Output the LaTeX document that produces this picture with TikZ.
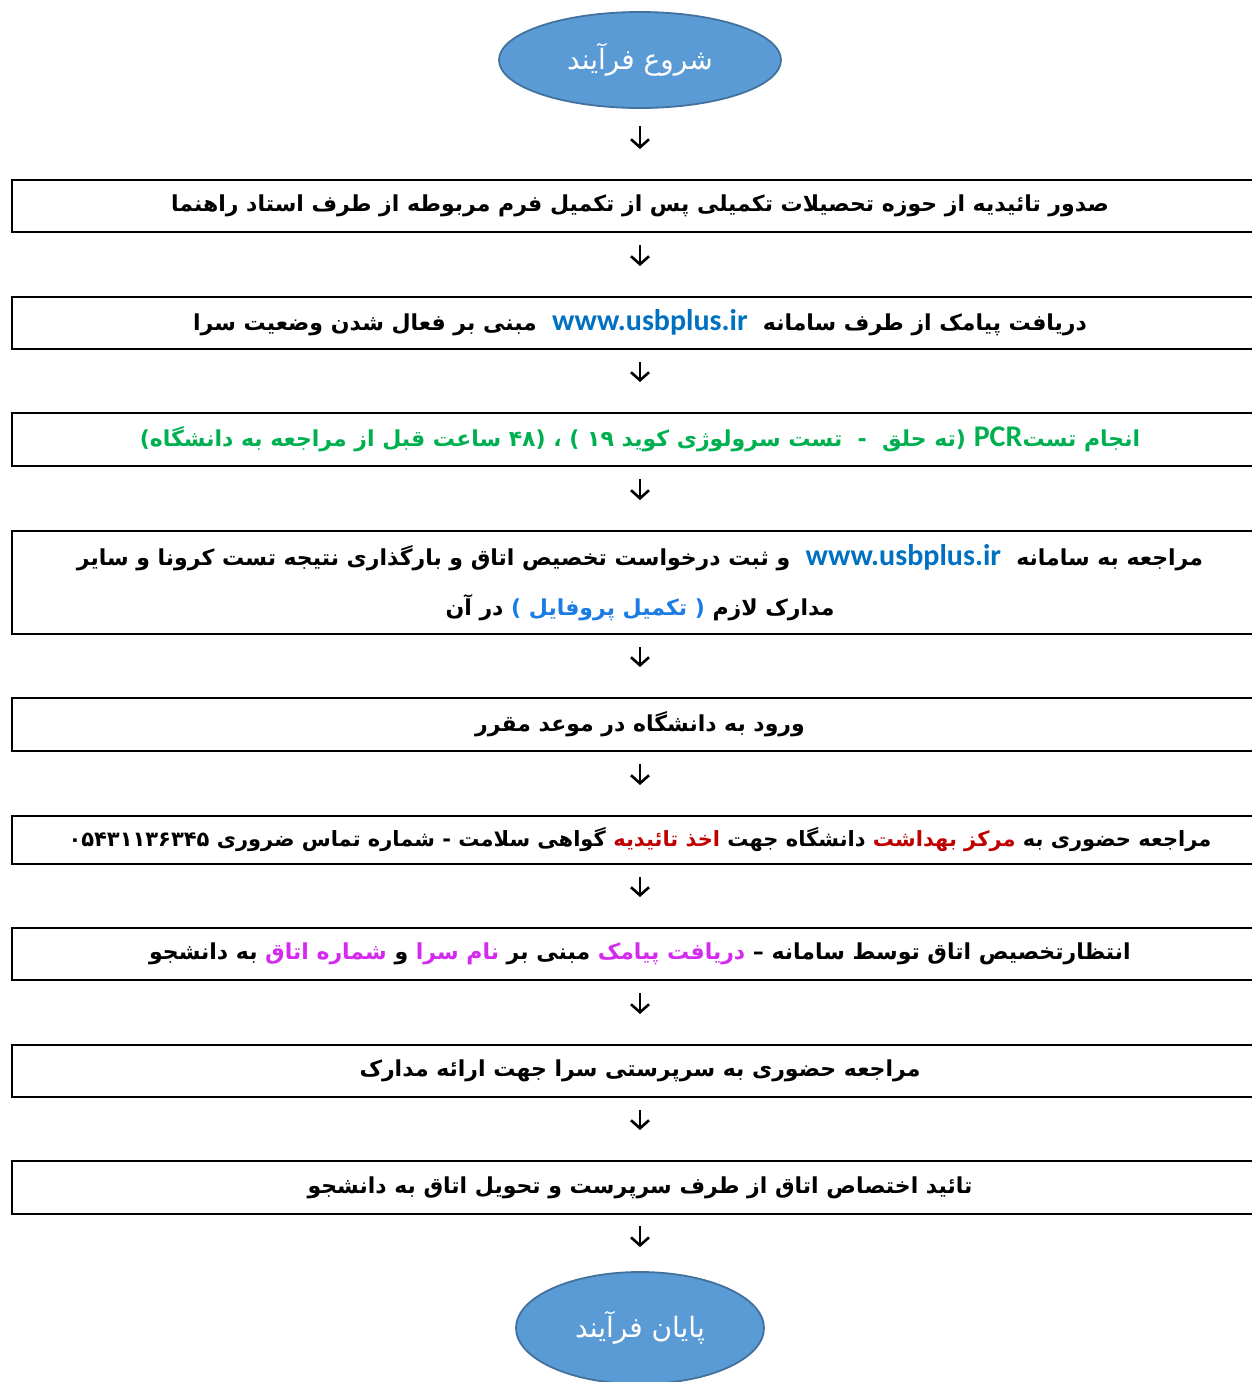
\documentclass[tikz,border=0pt]{standalone}
\usepackage{fontspec}
\usetikzlibrary{arrows.meta,shapes.geometric}
\TeXXeTstate=1
\newfontfamily\fa[Script=Arabic]{DejaVu Sans}
\newfontfamily\faRed[Script=Arabic,Color=C00000]{DejaVu Sans}
\newfontfamily\faMag[Script=Arabic,Color=D42AF0]{DejaVu Sans}
\newfontfamily\faBlue[Script=Arabic,Color=1C7CE6]{DejaVu Sans}
\newfontfamily\lat{Carlito}
\newfontfamily\laturl[Color=0070C0]{Carlito}
\definecolor{pcrgreen}{HTML}{00B050}
\definecolor{ovalfill}{HTML}{5B9BD5}
\definecolor{ovalline}{HTML}{41719C}
\newcommand\urlt{\hbox{\laturl\bfseries\fontsize{30}{36}\selectfont www.usbplus.ir}}
\newcommand\pcrt{\hbox{\lat\bfseries\fontsize{30}{36}\selectfont PCR}}
\tikzset{
  stepbox/.style={draw=black, line width=2pt, minimum width=1256pt, inner sep=0pt,
    font=\fa\bfseries\fontsize{22}{50}\selectfont, align=center},
  oval/.style={ellipse, draw=ovalline, line width=1.8pt, fill=ovalfill, inner sep=0pt,
    text=white, font=\fa\fontsize{28}{32}\selectfont},
  arr/.style={line width=2.6pt, -{Straight Barb[length=8pt,width=18pt]},
    shorten <=12pt, shorten >=30pt}
}
\begin{document}
\begin{tikzpicture}[x=1pt,y=-1pt]
\useasboundingbox (0,0) rectangle (1252,1382);
\clip (0,0) rectangle (1252,1382);
\node[oval, minimum width=282pt, minimum height=96pt] (s) at (640,60) {\beginR شروع فرآیند\endR};
\node[stepbox, minimum height=52pt] (b1) at (640,206) {\beginR صدور تائیدیه از حوزه تحصیلات تکمیلی پس از تکمیل فرم مربوطه از طرف استاد راهنما\endR};
\node[stepbox, minimum height=52pt] (b2) at (640,323) {\beginR دریافت پیامک از طرف سامانه \ \urlt\ \ مبنی بر فعال شدن وضعیت سرا\endR};
\node[stepbox, minimum height=53pt, text=pcrgreen] (b3) at (640,439.5) {\beginR انجام تست\pcrt\ (ته حلق \ - \ تست سرولوژی کوید ۱۹ ) ، (۴۸ ساعت قبل از مراجعه به دانشگاه)\endR};
\node[stepbox, minimum height=103pt] (b4) at (640,582.5) {\beginR مراجعه به سامانه \ \urlt\ \ و ثبت درخواست تخصیص اتاق و بارگذاری نتیجه تست کرونا و سایر\endR\\\beginR مدارک لازم {\faBlue\bfseries ( تکمیل پروفایل )} در آن\endR};
\node[stepbox, minimum height=53pt] (b5) at (640,724.5) {\beginR ورود به دانشگاه در موعد مقرر\endR};
\node[stepbox, minimum height=48pt, font=\fa\bfseries\fontsize{21}{50}\selectfont] (b6) at (640,840) {\beginR مراجعه حضوری به {\faRed\bfseries مرکز بهداشت} دانشگاه جهت {\faRed\bfseries اخذ تائیدیه} گواهی سلامت - شماره تماس ضروری ۰۵۴۳۱۱۳۶۳۴۵\endR};
\node[stepbox, minimum height=52pt] (b7) at (640,954) {\beginR انتظارتخصیص اتاق توسط سامانه – {\faMag\bfseries دریافت پیامک} مبنی بر {\faMag\bfseries نام سرا} و {\faMag\bfseries شماره اتاق} به دانشجو\endR};
\node[stepbox, minimum height=52pt] (b8) at (640,1071) {\beginR مراجعه حضوری به سرپرستی سرا جهت ارائه مدارک\endR};
\node[stepbox, minimum height=53pt] (b9) at (640,1187.5) {\beginR تائید اختصاص اتاق از طرف سرپرست و تحویل اتاق به دانشجو\endR};
\node[oval, minimum width=248pt, minimum height=112pt] (e) at (640,1328) {\beginR پایان فرآیند\endR};
\draw[arr, shorten <=17pt] (s) -- (b1);
\draw[arr] (b1) -- (b2);
\draw[arr] (b2) -- (b3);
\draw[arr] (b3) -- (b4);
\draw[arr] (b4) -- (b5);
\draw[arr] (b5) -- (b6);
\draw[arr] (b6) -- (b7);
\draw[arr] (b7) -- (b8);
\draw[arr] (b8) -- (b9);
\draw[arr, shorten <=11pt, shorten >=24pt] (b9) -- (e);
\end{tikzpicture}
\end{document}
